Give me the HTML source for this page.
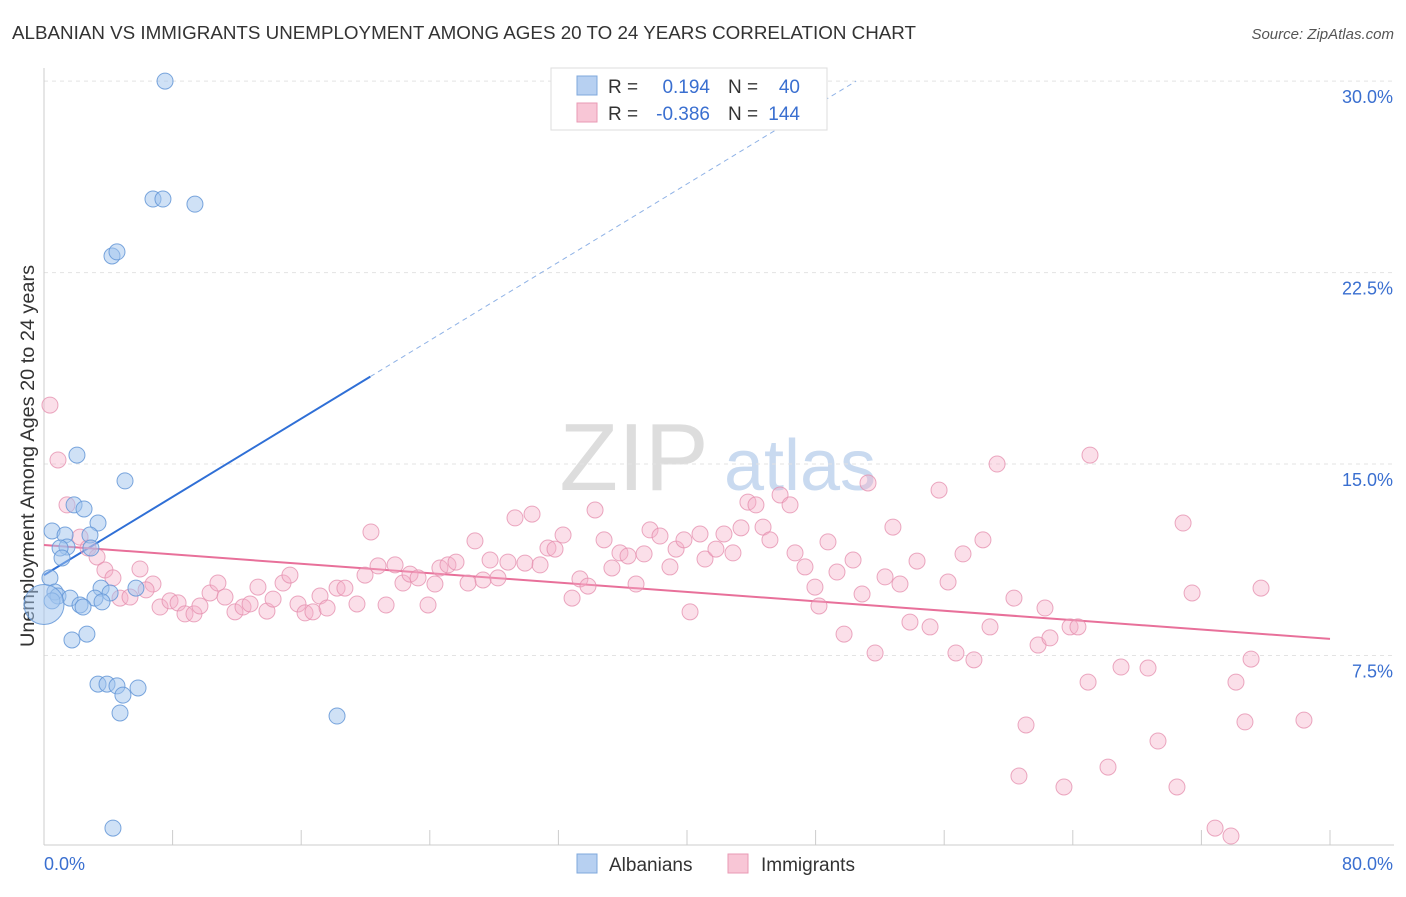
<!DOCTYPE html>
<html><head><meta charset="utf-8"><style>
body{margin:0;background:#fff;font-family:"Liberation Sans",sans-serif}
svg text{font-family:"Liberation Sans",sans-serif}
</style></head><body>
<svg id="chart" width="1406" height="892" xmlns="http://www.w3.org/2000/svg">
<text x="12" y="39" font-size="18.5" fill="#333" textLength="904" lengthAdjust="spacingAndGlyphs">ALBANIAN VS IMMIGRANTS UNEMPLOYMENT AMONG AGES 20 TO 24 YEARS CORRELATION CHART</text>
<text x="1394" y="39" font-size="15" fill="#555" text-anchor="end" font-style="italic">Source: ZipAtlas.com</text>
<text transform="translate(34,647) rotate(-90)" font-size="19" fill="#333" textLength="382" lengthAdjust="spacingAndGlyphs">Unemployment Among Ages 20 to 24 years</text>
<g id="watermark">
<text x="634" y="490" font-size="96" fill="#ddd" text-anchor="middle" font-family="Liberation Serif">ZIP</text>
<text x="800" y="490" font-size="72" fill="#c9daf0" text-anchor="middle">atlas</text>
</g>
<g id="grid"></g><g id="axes"></g><g id="trends"></g><g id="pts"></g>
<g>
<rect x="551" y="68" width="276" height="62" fill="#fff" stroke="#ddd"/>
<rect x="577" y="76" width="20" height="19" fill="#b7d0f1" stroke="#7fa8dc"/>
<rect x="577" y="103" width="20" height="19" fill="#f8c6d6" stroke="#e99ab4"/>
<text x="608" y="93" font-size="19" fill="#333">R =</text><text x="710" y="93" font-size="19" fill="#3a6fd0" text-anchor="end">0.194</text>
<text x="728" y="93" font-size="19" fill="#333">N =</text><text x="800" y="93" font-size="19" fill="#3a6fd0" text-anchor="end">40</text>
<text x="608" y="120" font-size="19" fill="#333">R =</text><text x="710" y="120" font-size="19" fill="#3a6fd0" text-anchor="end">-0.386</text>
<text x="728" y="120" font-size="19" fill="#333">N =</text><text x="800" y="120" font-size="19" fill="#3a6fd0" text-anchor="end">144</text>
</g>
<g>
<rect x="577" y="854" width="20" height="19" fill="#b7d0f1" stroke="#7fa8dc"/>
<text x="609" y="871" font-size="19" fill="#333">Albanians</text>
<rect x="728" y="854" width="20" height="19" fill="#f8c6d6" stroke="#e99ab4"/>
<text x="761" y="871" font-size="19" fill="#333">Immigrants</text>
</g>
</svg>
<script>
const yTicks=[7.5,15,22.5,30];
const yTickLabels=["7.5%","15.0%","22.5%","30.0%"];
const xTicks=[0,8,16,24,32,40,48,56,64,72,80];
const blueX=[7.53,6.78,7.40,9.39,4.23,4.54,2.05,5.04,1.87,2.49,3.36,2.86,0.50,1.31,1.43,1.0,2.92,1.12,0.37,0.68,0.87,0.5,1.62,3.55,4.11,5.72,3.17,3.61,2.24,2.43,1.74,2.67,3.36,3.92,4.54,4.91,5.85,4.73,18.23,4.29];
const blueY=[30.0,25.38,25.38,25.18,23.15,23.31,15.35,14.34,13.40,13.24,12.69,12.22,12.38,12.22,11.75,11.71,11.71,11.32,10.54,9.99,9.83,9.64,9.75,10.14,9.95,10.14,9.75,9.60,9.48,9.40,8.11,8.34,6.38,6.38,6.31,5.95,6.23,5.25,5.13,0.74];
const pinkX=[0.37,0.87,1.43,2.24,2.74,3.30,3.79,4.29,4.73,5.35,5.97,6.78,6.35,7.22,7.84,8.34,8.77,9.33,9.70,10.33,10.82,11.26,11.88,12.38,12.82,13.31,13.87,14.25,14.87,15.30,15.80,16.24,16.73,17.17,17.61,18.23,18.72,19.47,19.97,20.34,20.78,21.28,21.84,22.33,22.77,23.27,23.89,24.32,24.63,25.13,25.63,26.38,26.81,27.31,27.75,28.24,28.86,29.30,29.92,30.36,30.86,31.35,31.79,32.29,32.85,33.34,33.84,34.28,34.84,35.33,35.83,36.33,36.83,37.33,37.70,38.32,38.94,39.32,39.81,40.19,40.81,41.12,41.80,42.30,42.86,43.36,43.79,44.29,44.73,45.16,45.79,46.41,46.72,47.34,47.96,48.21,48.77,49.33,49.77,50.33,50.89,51.26,51.70,52.32,52.81,53.25,53.87,54.31,55.12,55.68,56.24,56.73,57.17,57.85,58.41,58.85,59.29,60.34,61.09,60.65,61.84,62.27,62.58,63.45,63.83,64.32,64.95,65.07,66.19,67.00,68.68,69.30,70.48,70.86,71.42,72.85,73.84,74.15,74.71,75.09,75.71,78.38];
const pinkY=[17.31,15.16,13.40,12.14,11.71,11.36,10.85,10.54,9.75,9.79,10.89,10.30,10.07,9.40,9.64,9.56,9.13,9.13,9.44,9.95,10.34,9.79,9.21,9.40,9.52,10.18,9.24,9.71,10.34,10.65,9.52,9.17,9.21,9.83,9.36,10.14,10.14,9.52,10.65,12.34,11.01,9.48,11.05,10.34,10.69,10.54,9.48,10.30,10.93,11.05,11.16,10.34,11.99,10.46,11.24,10.54,11.16,12.89,11.12,13.04,11.05,11.71,11.67,12.22,9.75,10.50,10.22,13.20,12.03,10.93,11.52,11.40,10.30,11.48,12.42,12.18,10.97,11.67,12.03,9.21,12.26,11.28,11.67,12.26,11.52,12.50,13.51,13.40,12.53,12.03,13.79,13.40,11.52,10.97,10.18,9.44,11.95,10.77,8.34,11.24,9.91,14.26,7.60,10.58,12.53,10.30,8.81,11.20,8.62,13.98,10.38,7.60,11.48,7.33,12.03,8.62,15.00,9.75,4.78,2.78,7.91,9.36,8.19,2.35,8.62,8.62,6.46,15.35,3.13,7.05,7.01,4.15,2.35,12.69,9.95,0.74,0.43,6.46,4.90,7.36,10.14,4.97];
const blueTrend=[10.65,0.383];
const pinkTrend=[11.83,-0.046];
const NS="http://www.w3.org/2000/svg";
const X=v=>44+v*16.075, Y=v=>847-v*25.53;
function mk(p,t,a){const e=document.createElementNS(NS,t);for(const k in a)e.setAttribute(k,a[k]);p.appendChild(e);return e;}
const grid=document.getElementById('grid'),axes=document.getElementById('axes'),tr=document.getElementById('trends'),pts=document.getElementById('pts');
yTicks.forEach((v,i)=>{
 const l=mk(grid,'line',{x1:44,x2:1394,y1:Y(v),y2:Y(v),stroke:'#e3e3e3','stroke-dasharray':'4,4'});
 
 
 const t=mk(axes,'text',{x:1393,y:Y(v)+22,'font-size':18,fill:'#3a6fd0','text-anchor':'end'});t.textContent=yTickLabels[i];
 
 
});
const ax=mk(axes,'line',{x1:44,x2:44,y1:68,y2:845,stroke:'#ccc'});


const bx=mk(axes,'line',{x1:44,x2:1394,y1:845,y2:845,stroke:'#ccc'});


xTicks.forEach(v=>{const l=mk(axes,'line',{x1:X(v),x2:X(v),y1:830,y2:845,stroke:'#ccc'});
 
 });
const t0=mk(axes,'text',{x:44,y:870,'font-size':18,fill:'#3a6fd0'});t0.textContent='0.0%';


const t1=mk(axes,'text',{x:1393,y:870,'font-size':18,fill:'#3a6fd0','text-anchor':'end'});t1.textContent='80.0%';


const bEnd=20.3, bDash=(30-blueTrend[0])/blueTrend[1];
const b1=mk(tr,'line',{x1:X(0),y1:Y(blueTrend[0]),x2:X(bEnd),y2:Y(blueTrend[0]+blueTrend[1]*bEnd),stroke:'#2f6fd6','stroke-width':2});


const b2=mk(tr,'line',{x1:X(bEnd),y1:Y(blueTrend[0]+blueTrend[1]*bEnd),x2:X(bDash),y2:Y(30),stroke:'#8fb2e6','stroke-width':1,'stroke-dasharray':'5,4'});


const p1=mk(tr,'line',{x1:X(0),y1:Y(pinkTrend[0]),x2:X(80),y2:Y(pinkTrend[0]+pinkTrend[1]*80),stroke:'#e8709a','stroke-width':2});


pinkX.forEach((x,i)=>{const c=mk(pts,'circle',{cx:X(x),cy:Y(pinkY[i]),r:8,fill:'rgba(245,175,200,0.4)',stroke:'rgba(228,140,172,0.75)','stroke-width':1});
 
 });
blueX.forEach((x,i)=>{const c=mk(pts,'circle',{cx:X(x),cy:Y(blueY[i]),r:8,fill:'rgba(160,195,238,0.5)',stroke:'rgba(100,150,215,0.85)','stroke-width':1});
 
 });
const big=mk(pts,'circle',{cx:X(0),cy:Y(9.5),r:20,fill:'rgba(160,195,238,0.5)',stroke:'rgba(100,150,215,0.85)'});


</script>
</body></html>
